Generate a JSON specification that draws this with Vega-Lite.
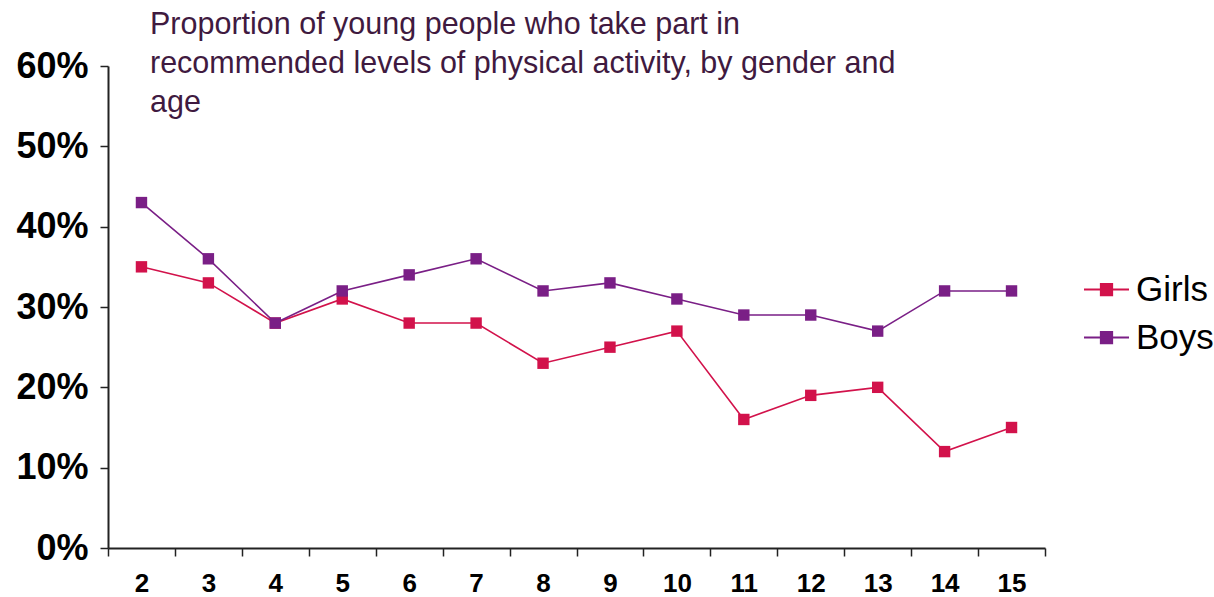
{
  "$schema": "https://vega.github.io/schema/vega-lite/v6.json",
  "width": 937,
  "height": 482,
  "autosize": {"type": "none"},
  "padding": {"left": 108, "top": 66, "right": 169, "bottom": 49},
  "background": "white",
  "title": {
    "text": ["Proportion of young people who take part in", "recommended levels of physical activity, by gender and", "age"],
    "anchor": "start",
    "frame": "group",
    "orient": "top",
    "baseline": "top",
    "dx": 42,
    "offset": -70,
    "lineHeight": 39,
    "font": "Liberation Sans",
    "fontSize": 30.5,
    "fontWeight": "normal",
    "color": "#3f1a40"
  },
  "data": {
    "values": [
      {"age": "2", "gender": "Girls", "pct": 0.35},
      {"age": "3", "gender": "Girls", "pct": 0.33},
      {"age": "4", "gender": "Girls", "pct": 0.28},
      {"age": "5", "gender": "Girls", "pct": 0.31},
      {"age": "6", "gender": "Girls", "pct": 0.28},
      {"age": "7", "gender": "Girls", "pct": 0.28},
      {"age": "8", "gender": "Girls", "pct": 0.23},
      {"age": "9", "gender": "Girls", "pct": 0.25},
      {"age": "10", "gender": "Girls", "pct": 0.27},
      {"age": "11", "gender": "Girls", "pct": 0.16},
      {"age": "12", "gender": "Girls", "pct": 0.19},
      {"age": "13", "gender": "Girls", "pct": 0.20},
      {"age": "14", "gender": "Girls", "pct": 0.12},
      {"age": "15", "gender": "Girls", "pct": 0.15},
      {"age": "2", "gender": "Boys", "pct": 0.43},
      {"age": "3", "gender": "Boys", "pct": 0.36},
      {"age": "4", "gender": "Boys", "pct": 0.28},
      {"age": "5", "gender": "Boys", "pct": 0.32},
      {"age": "6", "gender": "Boys", "pct": 0.34},
      {"age": "7", "gender": "Boys", "pct": 0.36},
      {"age": "8", "gender": "Boys", "pct": 0.32},
      {"age": "9", "gender": "Boys", "pct": 0.33},
      {"age": "10", "gender": "Boys", "pct": 0.31},
      {"age": "11", "gender": "Boys", "pct": 0.29},
      {"age": "12", "gender": "Boys", "pct": 0.29},
      {"age": "13", "gender": "Boys", "pct": 0.27},
      {"age": "14", "gender": "Boys", "pct": 0.32},
      {"age": "15", "gender": "Boys", "pct": 0.32}
    ]
  },
  "encoding": {
    "x": {
      "field": "age",
      "type": "ordinal",
      "sort": ["2","3","4","5","6","7","8","9","10","11","12","13","14","15"],
      "scale": {"type": "band", "paddingInner": 0, "paddingOuter": 0},
      "axis": {
        "title": null,
        "labelAngle": 0,
        "tickBand": "extent",
        "tickSize": 8,
        "tickColor": "#222",
        "tickWidth": 1.5,
        "domainColor": "#222",
        "domainWidth": 2,
        "labelPadding": 14,
        "labelFont": "Liberation Sans",
        "labelFontSize": 26,
        "labelFontWeight": "bold",
        "labelColor": "#000",
        "grid": false
      }
    },
    "y": {
      "field": "pct",
      "type": "quantitative",
      "scale": {"domain": [0, 0.6], "nice": false},
      "axis": {
        "title": null,
        "values": [0, 0.1, 0.2, 0.3, 0.4, 0.5, 0.6],
        "format": ".0%",
        "tickSize": 8,
        "tickColor": "#222",
        "tickWidth": 1.5,
        "domainColor": "#222",
        "domainWidth": 2,
        "labelPadding": 12,
        "labelFont": "Liberation Sans",
        "labelFontSize": 36,
        "labelFontWeight": "bold",
        "labelColor": "#000",
        "grid": false
      }
    },
    "color": {
      "field": "gender",
      "type": "nominal",
      "scale": {"domain": ["Girls", "Boys"], "range": ["#d2124b", "#7a1f86"]},
      "legend": {
        "title": null,
        "orient": "none",
        "legendX": 975,
        "legendY": 200,
        "symbolType": "M-1,0H1M-0.25,-0.25H0.25V0.25H-0.25Z",
        "symbolSize": 2025,
        "symbolStrokeWidth": 2,
        "labelFont": "Liberation Sans",
        "labelFontSize": 35,
        "labelColor": "#000",
        "labelOffset": 6,
        "rowPadding": 6,
        "labelLimit": 200
      }
    }
  },
  "layer": [
    {"mark": {"type": "line", "strokeWidth": 1.6}},
    {"mark": {"type": "point", "shape": "square", "filled": true, "size": 130, "opacity": 1}}
  ],
  "config": {"view": {"stroke": null}}
}
